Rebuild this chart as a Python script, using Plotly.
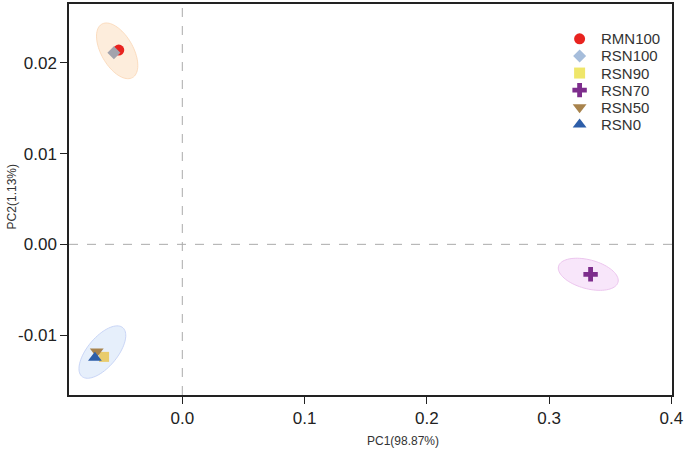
import numpy as np
import plotly.graph_objects as go

groups = ["RMN100", "RSN100", "RSN90", "RSN70", "RSN50", "RSN0"]
pc1 = [-0.052, -0.056, -0.064, 0.334, -0.070, -0.0715]
pc2 = [0.0214, 0.0211, -0.0124, -0.0033, -0.0118, -0.0125]
symbols = ["circle", "diamond", "square", "cross", "triangle-down", "triangle-up"]
colors = ["#E8231F", "#A2A3AD", "#E9CC6C", "#7D2D8C", "#A8834C", "#2D5EA9"]
legend_colors = ["#E8231F", "#A6BDDB", "#EFE66A", "#7D2D8C", "#A8834C", "#2D5EA9"]
sizes = [11, 10, 10, 12, 12, 12]
legend_sizes = [11, 10, 11, 12, 12, 12]

# confidence ellipses: centre (data), semi-axes (px), angle (deg)
ell_cx = [-0.0533, -0.0654, 0.3321]
ell_cy = [0.02132, -0.01187, -0.0033]
ell_a = [31, 32, 31]
ell_b = [16, 15, 14.5]
ell_ang = [-60, 50, -15]
ell_fill = ["rgba(252,225,196,0.6)", "rgba(214,228,248,0.6)", "rgba(244,214,246,0.6)"]
ell_line = ["rgba(250,214,180,0.8)", "rgba(196,210,245,0.9)", "rgba(234,192,236,0.9)"]

xr = [-0.0927, 0.4006]
yr = [-0.0166, 0.02648]
W, H = 685, 457
ml, mr, mt, mb = 69, 9, 2, 62
pw, ph = W - ml - mr, H - mt - mb
sx = pw / (xr[1] - xr[0])
sy = ph / (yr[1] - yr[0])

fig = go.Figure()
shapes = []
t = np.linspace(0, 2 * np.pi, 80)
for cx, cy, a, b, ang, fc, lc in zip(ell_cx, ell_cy, ell_a, ell_b, ell_ang, ell_fill, ell_line):
    th = np.deg2rad(ang)
    px = a * np.cos(t) * np.cos(th) - b * np.sin(t) * np.sin(th)
    py = a * np.cos(t) * np.sin(th) + b * np.sin(t) * np.cos(th)
    xs = cx + px / sx
    ys = cy + py / sy
    path = "M " + " L ".join(f"{x:.6f},{y:.6f}" for x, y in zip(xs, ys)) + " Z"
    shapes.append(dict(type="path", path=path, xref="x", yref="y",
                       fillcolor=fc, line=dict(color=lc, width=1), layer="below"))

shapes.append(dict(type="line", x0=0, x1=0, y0=0, y1=1, xref="x", yref="paper",
                   line=dict(color="#AAAAAA", width=1, dash="dash"), layer="below"))
shapes.append(dict(type="line", x0=0, x1=1, y0=0, y1=0, xref="paper", yref="y",
                   line=dict(color="#AAAAAA", width=1, dash="dash"), layer="below"))

for g, x, y, s, c, sz in zip(groups, pc1, pc2, symbols, colors, sizes):
    fig.add_trace(go.Scatter(x=[x], y=[y], mode="markers", name=g, showlegend=False,
                             marker=dict(symbol=s, color=c, size=sz, opacity=1, line=dict(width=0))))

# legend (drawn on an overlay axis, tight row spacing as in the reference)
leg_x_px, leg_y0_px, leg_dy_px, leg_txt_px = 583, 37, 17.2, 603
leg_x = (leg_x_px - ml) / pw
leg_y = [1 - (leg_y0_px + i * leg_dy_px - mt) / ph for i in range(len(groups))]
fig.add_trace(go.Scatter(x=[leg_x] * len(groups), y=leg_y, mode="markers", xaxis="x2", yaxis="y2",
                         showlegend=False, hoverinfo="text", text=groups,
                         marker=dict(symbol=symbols, color=legend_colors, size=legend_sizes,
                                     opacity=1, line=dict(width=0))))

font = "Liberation Sans, Arial, Helvetica, sans-serif"
axis_common = dict(showgrid=False, zeroline=False, showline=True, linecolor="#222222", linewidth=1.5,
                   mirror=True, ticks="outside", ticklen=7, tickcolor="#222222",
                   tickfont=dict(size=17, color="#222222"), ticklabeloverflow="allow")
fig.update_layout(
    width=W, height=H, margin=dict(l=ml, r=mr, t=mt, b=mb),
    plot_bgcolor="white", paper_bgcolor="white",
    font=dict(family=font, color="#222222"),
    shapes=shapes, showlegend=False,
    xaxis=dict(range=xr, tickvals=[0, 0.1, 0.2, 0.3, 0.4], ticktext=["0.0", "0.1", "0.2", "0.3", "0.4"],
               **axis_common),
    yaxis=dict(range=yr, tickvals=[-0.01, 0, 0.01, 0.02], ticktext=["-0.01", "0.00", "0.01", "0.02"],
               **axis_common),
    xaxis2=dict(overlaying="x", range=[0, 1], visible=False),
    yaxis2=dict(overlaying="y", range=[0, 1], visible=False),
)
anns = [dict(text=g, x=(leg_txt_px - ml) / pw, y=yy, xref="paper", yref="paper", showarrow=False,
             xanchor="left", yanchor="middle", font=dict(size=15, color="#333333"))
        for g, yy in zip(groups, leg_y)]
ann_px = [("PC1(98.87%)", 405, 441, 0), ("PC2(1.13%)", 12, 196, -90)]
anns += [dict(text=txt, x=(px_ - ml) / pw, y=(H - py_ - mb) / ph, xref="paper", yref="paper",
              xanchor="center", yanchor="middle",
              showarrow=False, textangle=ang, font=dict(size=12, color="#333333"))
         for txt, px_, py_, ang in ann_px]
fig.update_layout(annotations=anns)

fig.write_html("out.html", config={"displayModeBar": False},
               post_script="document.body.style.margin='0';")
